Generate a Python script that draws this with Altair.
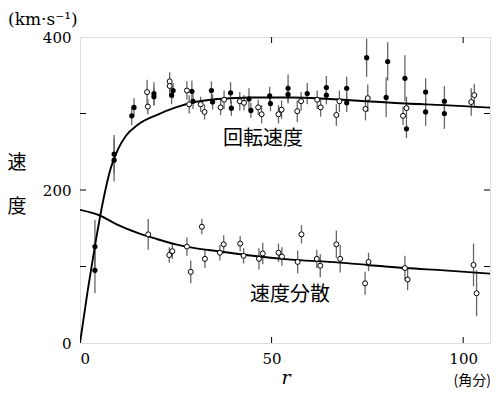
import altair as alt
import pandas as pd

# ---------------- data ----------------
# rotation speed, filled circles
rot_r = [3.9, 3.9, 8.9, 8.9, 13.5, 14.1, 19.3, 19.3, 23.9, 24.3, 29.2, 29.5,
         34.3, 34.6, 39.3, 39.5, 44.1, 44.6, 49.5, 49.7, 54.3, 54.3, 59.3,
         64.3, 64.3, 69.6, 69.6, 74.8, 79.9, 80.3, 84.8, 85.2, 90.2, 90.2,
         95.1, 95.1]
rot_v = [126, 95, 247, 239, 297, 308, 326, 322, 324, 330, 329, 316,
         330, 315, 327, 307, 319, 304, 323, 313, 333, 325, 326,
         334, 324, 333, 314, 373, 321, 368, 346, 280, 328, 302,
         316, 300]
rot_e = [35, 30, 25, 28, 12, 12, 15, 12, 12, 10, 14, 10,
         12, 10, 14, 10, 14, 10, 12, 10, 18, 12, 14,
         15, 12, 15, 12, 25, 26, 25, 30, 12, 18, 18,
         20, 20]

# rotation speed, open circles
rot2_r = [17.5, 17.7, 23.4, 23.4, 27.9, 28.5, 31.5, 32.5, 36.7, 37.6, 41.7,
          42.8, 46.5, 47.4, 51.8, 52.6, 56.7, 57.7, 61.9, 62.8, 66.9, 67.7,
          74.5, 75.1, 84.3, 85.2, 102.1, 102.9]
rot2_v = [328, 309, 342, 336, 330, 312, 312, 302, 308, 318, 316,
          314, 308, 299, 299, 305, 303, 316, 318, 308, 298, 316,
          306, 320, 297, 307, 315, 324]
rot2_e = [16, 10, 12, 10, 12, 12, 10, 10, 10, 12, 12,
          10, 10, 12, 12, 12, 14, 12, 12, 12, 14, 14,
          15, 18, 12, 15, 18, 15]

# velocity dispersion, open circles
disp_r = [17.8, 23.3, 24.1, 27.9, 28.9, 31.8, 32.6, 36.5, 37.5, 41.8, 42.7,
          46.7, 47.7, 51.8, 52.7, 56.8, 57.8, 61.8, 62.7, 66.9, 67.9, 74.4,
          75.3, 84.8, 85.5, 102.7, 103.5]
disp_v = [142, 115, 120, 126, 93, 152, 110, 118, 129, 130, 114,
          110, 117, 118, 113, 106, 142, 110, 101, 129, 110, 78,
          106, 98, 83, 102, 65]
disp_e = [20, 10, 10, 12, 15, 10, 12, 10, 12, 10, 10,
          14, 14, 12, 12, 15, 12, 12, 15, 18, 18, 15,
          12, 16, 14, 28, 30]

# model curves
rcurve_r = [0, 2, 4, 6, 8, 10, 12, 15, 20, 25, 30, 36, 45, 55, 65, 75, 85, 95, 109]
rcurve_v = [0, 68, 130, 185, 228, 254, 271, 285, 298, 308, 315, 319, 321, 321,
            319, 316, 313, 311, 307]
dcurve_r = [0, 5, 10, 15, 20, 25, 30, 36, 45, 55, 65, 75, 85, 95, 109]
dcurve_v = [174, 167, 154, 144, 136, 129, 124, 120, 114, 109, 106, 102, 98, 95, 90]

x_tick_labels = [0, 50, 100]
y_tick_labels = [0, 200, 400]
x_minor = [50, 100]
y_minor = [100, 200, 300]

# ---------------- chart ----------------
W, H = 410, 306
SERIF = "DejaVu Serif"
JP = "Noto Sans CJK JP"

xs = alt.Scale(domain=[0, 107], nice=False, zero=False)
ys = alt.Scale(domain=[0, 400], nice=False)

x_ax = alt.Axis(values=x_tick_labels, title=None, grid=False, domain=False,
                ticks=True, tickSize=0, tickWidth=0, labelFont=SERIF,
                labelFontSize=15, labelColor="black", labelPadding=8)
y_ax = alt.Axis(values=y_tick_labels, title=None, grid=False, domain=False,
                ticks=True, tickSize=0, tickWidth=0, labelFont=SERIF,
                labelFontSize=15, labelColor="black", labelPadding=9)


def X(f="r"):
    return alt.X(f"{f}:Q", scale=xs, axis=x_ax)


def Y(f="v"):
    return alt.Y(f"{f}:Q", scale=ys, axis=y_ax)


def pts(r, v, e):
    return pd.DataFrame({"r": r, "v": v, "e": e})


rot = pts(rot_r, rot_v, rot_e)
rot2 = pts(rot2_r, rot2_v, rot2_e)
disp = pts(disp_r, disp_v, disp_e)
allpts = pd.concat([rot, rot2, disp], ignore_index=True)

errbars = alt.Chart(allpts).transform_calculate(
    lo="datum.v - datum.e", hi="datum.v + datum.e"
).mark_rule(color="#666666", strokeWidth=1.3).encode(
    x=X(), y=Y("lo"), y2="hi:Q"
)

rc = alt.Chart(pd.DataFrame({"r": rcurve_r, "v": rcurve_v})).mark_line(
    color="black", strokeWidth=1.9, interpolate="monotone", clip=True
).encode(x=X(), y=Y())

dc = alt.Chart(pd.DataFrame({"r": dcurve_r, "v": dcurve_v})).mark_line(
    color="black", strokeWidth=1.9, interpolate="monotone", clip=True
).encode(x=X(), y=Y())

filled = alt.Chart(rot).mark_point(
    shape="circle", filled=True, color="black", size=27, opacity=1
).encode(x=X(), y=Y())

open_rot = alt.Chart(rot2).mark_point(
    shape="circle", filled=True, fill="white", stroke="black", strokeWidth=1,
    size=25, opacity=1
).encode(x=X(), y=Y())

open_disp = alt.Chart(disp).mark_point(
    shape="circle", filled=True, fill="white", stroke="black", strokeWidth=1,
    size=25, opacity=1
).encode(x=X(), y=Y())

# inward ticks
xt = pd.DataFrame({"r": x_minor})
yt = pd.DataFrame({"v": y_minor})
tick_style = dict(color="black", strokeWidth=1)
t_bottom = alt.Chart(xt).mark_rule(**tick_style).encode(
    x=X(), y=alt.value(H), y2=alt.value(H - 6))
t_top = alt.Chart(xt).mark_rule(**tick_style).encode(
    x=X(), y=alt.value(0), y2=alt.value(6))
t_left = alt.Chart(yt).mark_rule(**tick_style).encode(
    y=Y(), x=alt.value(0), x2=alt.value(6))
t_right = alt.Chart(yt).mark_rule(**tick_style).encode(
    y=Y(), x=alt.value(W), x2=alt.value(W - 6))

dummy = pd.DataFrame({"a": [0]})


def label(text, x, y, font, size, align="center", baseline="middle",
          style="normal"):
    return alt.Chart(dummy).mark_text(
        text=text, x=x, y=y, font=font, fontSize=size, align=align,
        baseline=baseline, color="black", fontStyle=style
    )


labels = [
    label("回転速度", 183, 102, JP, 20),
    label("速度分散", 210, 258, JP, 20),
    label("(km·s⁻¹)", -72, -12, SERIF, 17, align="left",
          baseline="alphabetic"),
    label("速", -63, 126, JP, 19),
    label("度", -63, 170, JP, 19),
    label("r", 206, 347, SERIF, 19, baseline="alphabetic", style="italic"),
    label("(角分)", 411, 348, JP, 14, align="right", baseline="alphabetic"),
]

chart = alt.layer(
    errbars, rc, dc, filled, open_rot, open_disp,
    t_bottom, t_top, t_left, t_right, *labels
).properties(
    width=W, height=H,
    autosize=alt.AutoSizeParams(type="none"),
    padding={"left": 72, "top": 29, "right": 2, "bottom": 45},
).configure_view(
    stroke="black", strokeWidth=1.5
).configure(background="white")

chart.save("out.html", embed_options={"renderer": "svg", "actions": False})
